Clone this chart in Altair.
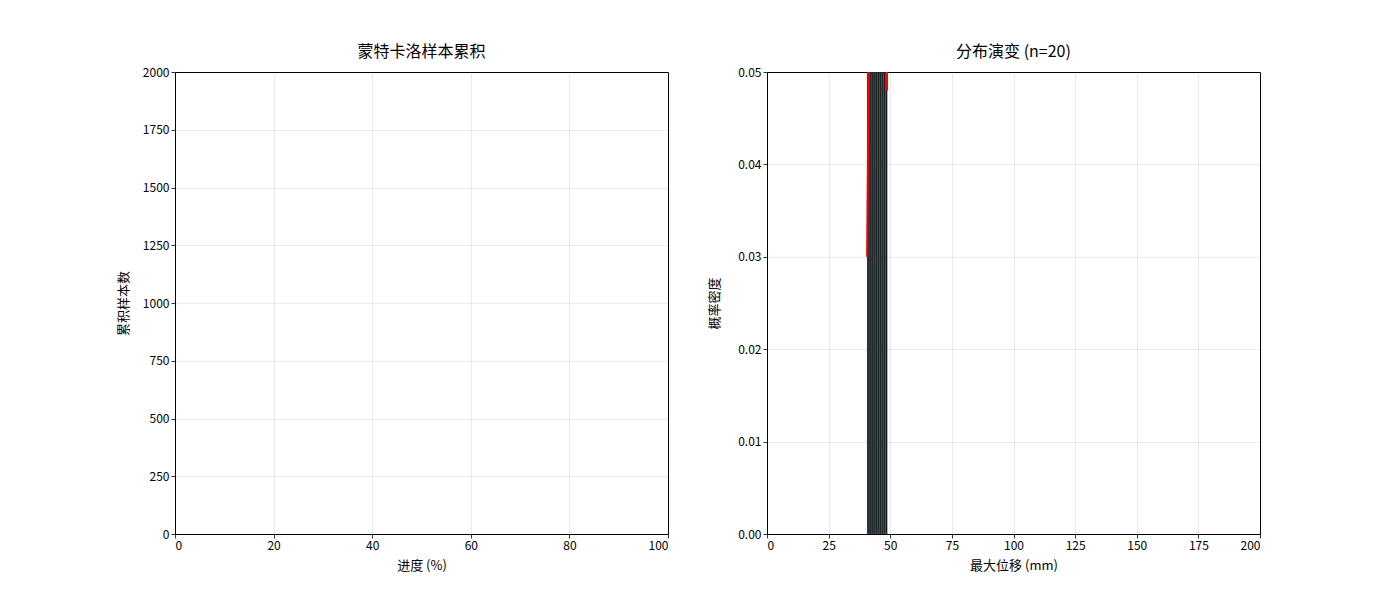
import altair as alt
import pandas as pd

FONT = "Noto Sans CJK SC"

# Left panel (empty accumulation chart)
left_x_domain = [0, 100]
left_y_domain = [0, 2000]

# Right panel histogram (density), n = 20
bin_left = [40.6, 41.42, 42.24, 43.06, 43.88, 44.7, 45.52, 46.34, 47.16, 47.98]
bin_right = [41.42, 42.24, 43.06, 43.88, 44.7, 45.52, 46.34, 47.16, 47.98, 48.8]
bin_counts = [2, 3, 2, 2, 3, 1, 2, 2, 1, 2]
n_samples = 20

# KDE curve (red)
kde_x = [40.6, 41.0, 41.4, 42.0, 43.0, 44.0, 45.0, 46.0, 47.0, 48.0, 48.4, 48.7]
kde_y = [0.030, 0.042, 0.055, 0.09, 0.14, 0.17, 0.16, 0.15, 0.15, 0.11, 0.07, 0.048]

hist = pd.DataFrame({
    "x0": bin_left,
    "x1": bin_right,
    "count": bin_counts,
})
hist["density"] = hist["count"] / (n_samples * (hist["x1"] - hist["x0"]))
hist["zero"] = 0.0
kde = pd.DataFrame({"x": kde_x, "y": kde_y})

W, H = 493, 462

axis_common = dict(
    grid=True, gridColor="#000000", gridOpacity=0.1, gridWidth=0.8,
    domain=False, tickColor="#000000", tickSize=4, tickWidth=0.8,
    labelColor="#000000", labelFont=FONT, labelFontSize=12,
    titleFont=FONT, titleFontSize=13, titleFontWeight="normal", titleColor="#000000",
)

empty = pd.DataFrame({"x": [], "y": []})
left = alt.Chart(empty).mark_point(opacity=0).encode(
    x=alt.X("x:Q", scale=alt.Scale(domain=left_x_domain, nice=False),
            axis=alt.Axis(title="进度 (%)", values=[0, 20, 40, 60, 80, 100], format="d",
                          titlePadding=8, **axis_common)),
    y=alt.Y("y:Q", scale=alt.Scale(domain=left_y_domain, nice=False),
            axis=alt.Axis(title="累积样本数", values=list(range(0, 2001, 250)), format="d",
                          titlePadding=12, **axis_common)),
).properties(width=W, height=H, title=alt.TitleParams("蒙特卡洛样本累积", font=FONT, fontSize=16, fontWeight="normal", offset=6))

xs = alt.Scale(domain=[0, 200], nice=False)
ys = alt.Scale(domain=[0, 0.05], nice=False)
xax = alt.Axis(title="最大位移 (mm)", values=list(range(0, 201, 25)), format="d", titlePadding=8, **axis_common)
yax = alt.Axis(title="概率密度", values=[0, 0.01, 0.02, 0.03, 0.04, 0.05], format=".2f", titlePadding=16, **axis_common)

bars = alt.Chart(hist).mark_rect(color="#0e1418", stroke="#8a9296", strokeWidth=0.4, strokeOpacity=0.7, clip=True).encode(
    x=alt.X("x0:Q", scale=xs, axis=xax),
    x2="x1:Q",
    y=alt.Y("density:Q", scale=ys, axis=yax),
    y2="zero:Q",
)
line = alt.Chart(kde).mark_line(color="#ff0000", strokeWidth=2, clip=True).encode(
    x=alt.X("x:Q", scale=xs),
    y=alt.Y("y:Q", scale=ys),
)
right = alt.layer(bars, line).properties(
    width=W, height=H,
    title=alt.TitleParams("分布演变 (n=20)", font=FONT, fontSize=16, fontWeight="normal", offset=6),
)

chart = alt.hconcat(left, right, spacing=99, bounds="flush").configure_view(
    stroke="#000000", strokeWidth=1
).properties(padding={"left": 108, "top": 35, "right": 10, "bottom": 10})

chart.save("out.html", embed_options={"renderer": "svg", "actions": False})
